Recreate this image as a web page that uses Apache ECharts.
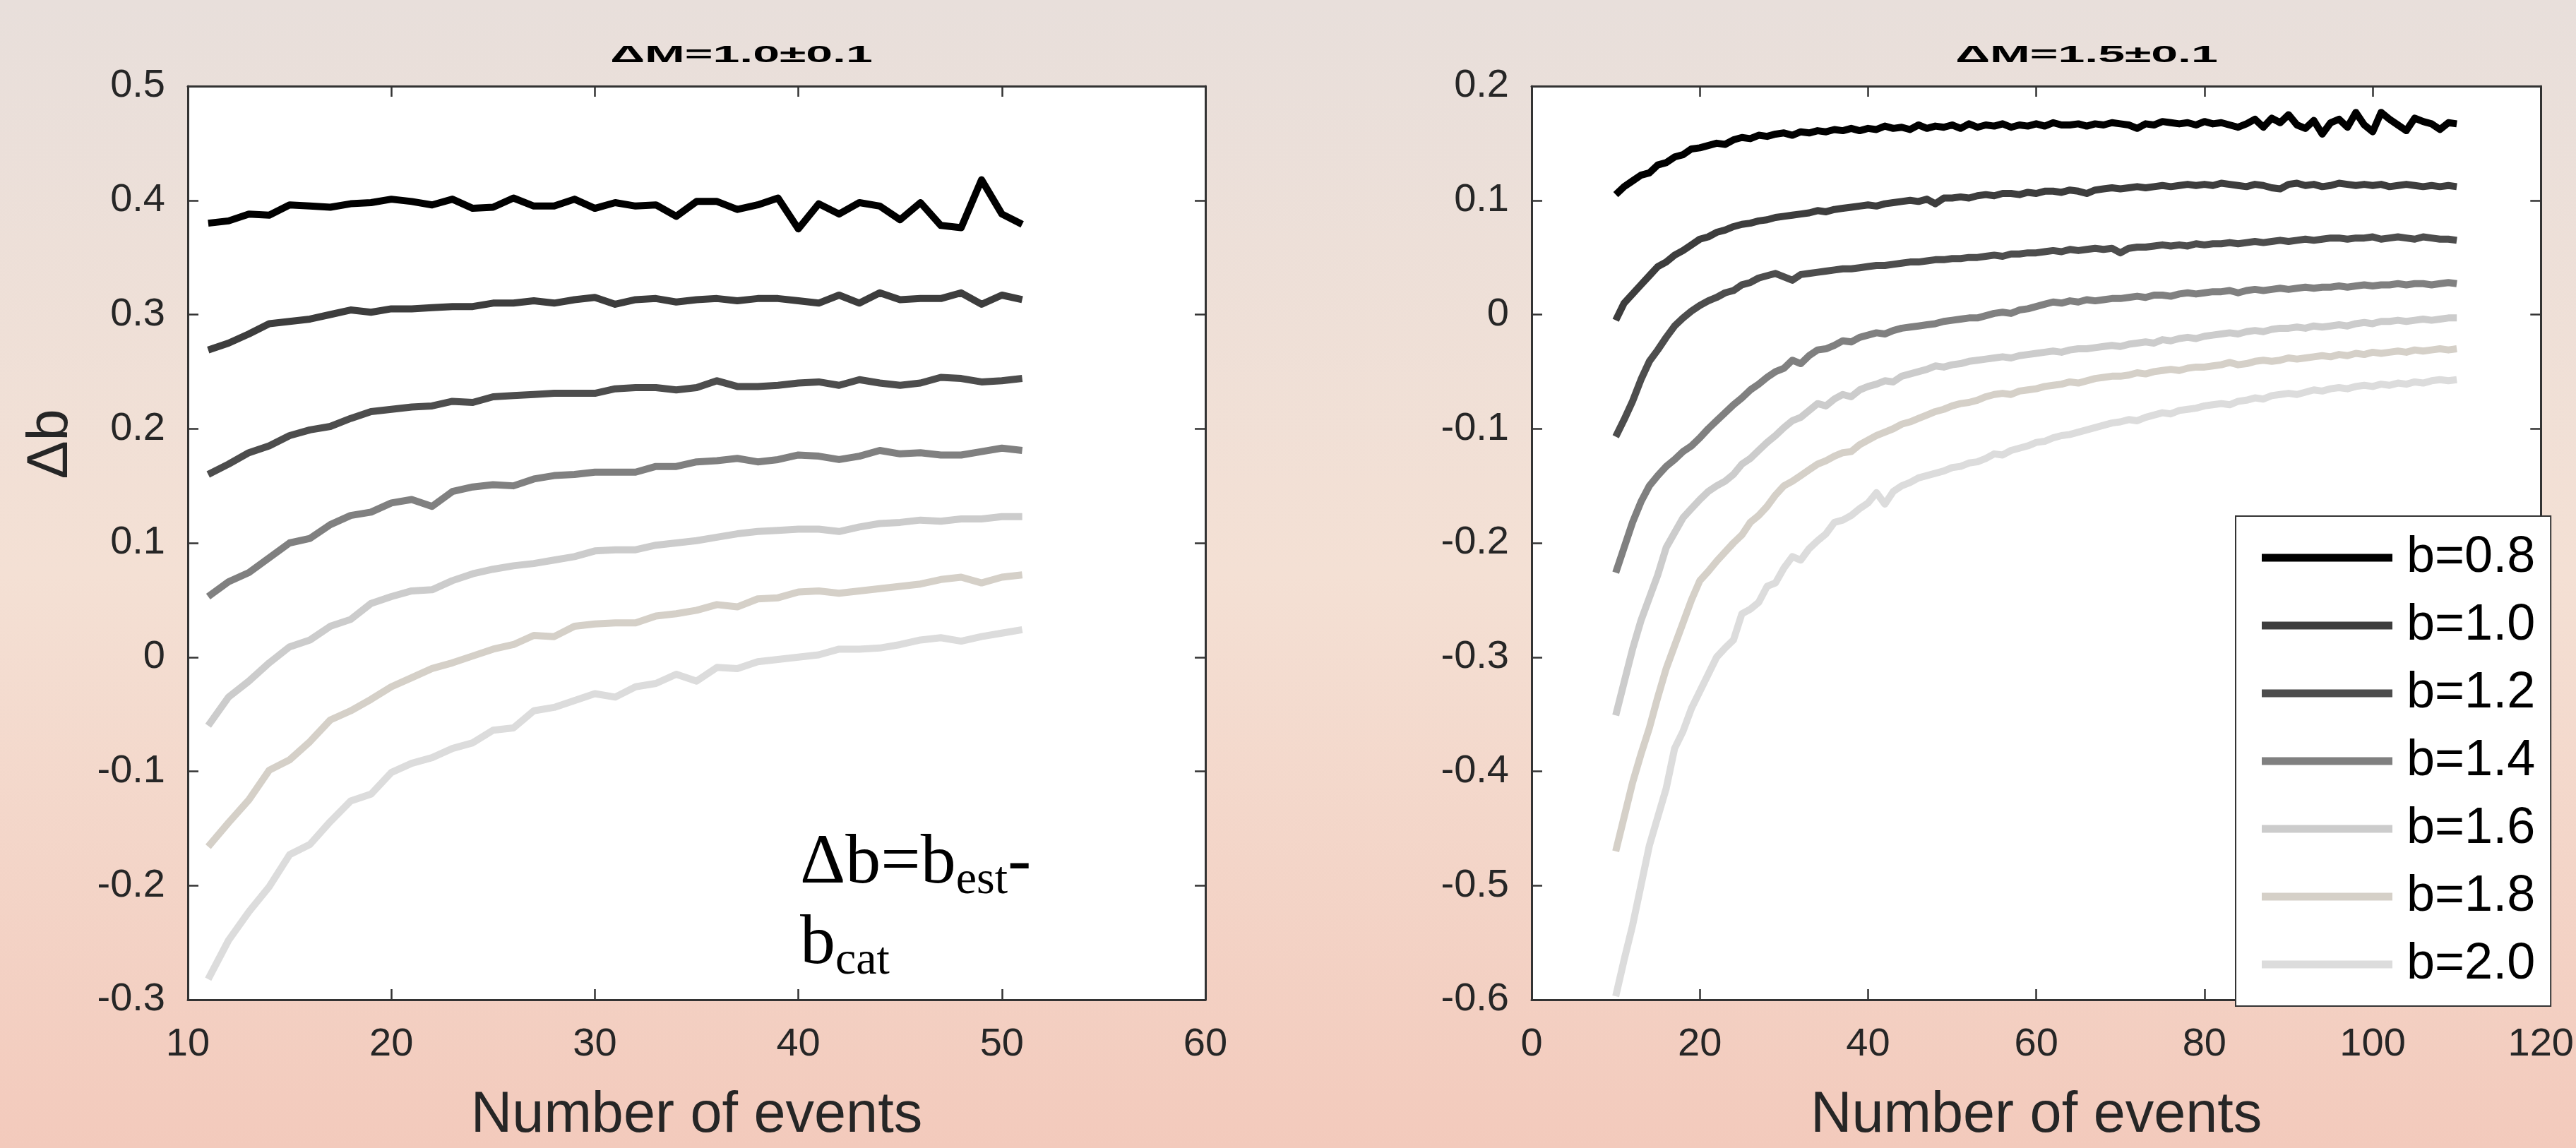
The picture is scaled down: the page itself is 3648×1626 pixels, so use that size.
<!DOCTYPE html>
<html><head><meta charset="utf-8">
<script src="https://cdn.jsdelivr.net/npm/echarts@6/dist/echarts.min.js"></script>
<style>html,body{margin:0;padding:0;background:#f0dcd2;} #c{width:3648px;height:1626px;}</style>
</head><body><div id="c"></div>
<script>
// ---------- DATA ----------
const seriesNames = ['b=0.8','b=1.0','b=1.2','b=1.4','b=1.6','b=1.8','b=2.0'];
const seriesColors = ['#000000','#3d3d3d','#4d4d4d','#808080','#cccccc','#d5d0c8','#dcdcdc'];

const leftTitle = '\u0394M=1.0\u00b10.1';
const rightTitle = '\u0394M=1.5\u00b10.1';
const xAxisTitle = 'Number of events';
const yAxisTitle = '\u0394b';

const leftN = [11,12,13,14,15,16,17,18,19,20,21,22,23,24,25,26,27,28,29,30,31,32,33,34,35,36,37,38,39,40,41,42,43,44,45,46,47,48,49,50,51];
const left_b08 = [.380,.382,.388,.387,.396,.395,.394,.397,.398,.401,.399,.396,.401,.393,.394,.402,.395,.395,.401,.393,.398,.395,.396,.386,.399,.399,.392,.396,.402,.375,.397,.388,.398,.395,.383,.398,.378,.376,.418,.388,.379];
const left_b10 = [.269,.275,.283,.292,.294,.296,.300,.304,.302,.305,.305,.306,.307,.307,.310,.310,.312,.310,.313,.315,.309,.313,.314,.311,.313,.314,.312,.314,.314,.312,.310,.317,.310,.319,.313,.314,.314,.319,.309,.317,.313];
const left_b12 = [.160,.169,.179,.185,.194,.199,.202,.209,.215,.217,.219,.220,.224,.223,.228,.229,.230,.231,.231,.231,.235,.236,.236,.234,.236,.242,.237,.237,.238,.240,.241,.238,.243,.240,.238,.240,.245,.244,.241,.242,.244];
const left_b14 = [.053,.066,.074,.087,.100,.104,.116,.124,.127,.135,.138,.132,.145,.149,.151,.150,.156,.159,.160,.162,.162,.162,.167,.167,.171,.172,.174,.171,.173,.177,.176,.173,.176,.181,.178,.179,.177,.177,.180,.183,.181];
const left_b16 = [-.060,-.035,-.021,-.005,.009,.015,.027,.033,.047,.053,.058,.059,.067,.073,.077,.080,.082,.085,.088,.093,.094,.094,.098,.100,.102,.105,.108,.110,.111,.112,.112,.110,.114,.117,.118,.120,.119,.121,.121,.123,.123];
const left_b18 = [-.166,-.145,-.125,-.099,-.090,-.074,-.055,-.047,-.037,-.026,-.018,-.010,-.005,.001,.007,.011,.019,.018,.027,.029,.030,.030,.036,.038,.041,.046,.044,.051,.052,.057,.058,.056,.058,.060,.062,.064,.068,.070,.065,.070,.072];
const left_b20 = [-.282,-.248,-.223,-.201,-.173,-.164,-.144,-.126,-.120,-.101,-.093,-.088,-.080,-.075,-.064,-.062,-.047,-.044,-.038,-.032,-.035,-.026,-.023,-.015,-.021,-.009,-.010,-.004,-.002,.000,.002,.007,.007,.008,.011,.015,.017,.014,.018,.021,.024];

const rightN = [10,11,12,13,14,15,16,17,18,19,20,21,22,23,24,25,26,27,28,29,30,31,32,33,34,35,36,37,38,39,40,41,42,43,44,45,46,47,48,49,50,51,52,53,54,55,56,57,58,59,60,61,62,63,64,65,66,67,68,69,70,71,72,73,74,75,76,77,78,79,80,81,82,83,84,85,86,87,88,89,90,91,92,93,94,95,96,97,98,99,100,101,102,103,104,105,106,107,108,109,110];
const right_b08 = [
 .105,.112,.117,.122,.124,.131,.133,.138,.140,.145,
 .146,.148,.150,.149,.153,.155,.154,.157,.156,.158,
 .159,.157,.160,.159,.161,.160,.162,.161,.163,.161,
 .163,.162,.165,.163,.164,.162,.166,.163,.165,.164,
 .166,.163,.167,.164,.166,.165,.167,.164,.166,.165,
 .167,.165,.168,.166,.166,.167,.165,.167,.166,.168,
 .167,.166,.163,.167,.166,.169,.168,.167,.168,.166,
 .169,.167,.168,.166,.164,.167,.171,.164,.172,.168,
 .175,.166,.163,.170,.158,.168,.171,.164,.177,.166,
 .160,.177,.171,.166,.161,.172,.169,.167,.162,.168,.167];
const right_b10 = [
 -.005,.010,.018,.026,.034,.042,.046,.052,.056,.061,
 .066,.068,.072,.074,.077,.079,.080,.082,.083,.085,
 .086,.087,.088,.089,.091,.090,.092,.093,.094,.095,
 .096,.095,.097,.098,.099,.100,.099,.101,.097,.102,
 .102,.103,.102,.104,.105,.104,.106,.106,.105,.107,
 .106,.108,.108,.107,.109,.108,.106,.109,.110,.111,
 .110,.111,.112,.111,.112,.113,.112,.113,.114,.113,
 .114,.113,.115,.114,.113,.112,.114,.113,.111,.110,
 .114,.115,.113,.114,.112,.113,.115,.114,.113,.114,
 .113,.114,.112,.113,.114,.113,.112,.113,.112,.113,.112];
const right_b12 = [
 -.107,-.092,-.076,-.057,-.041,-.031,-.020,-.010,-.003,.003,
 .008,.012,.015,.019,.021,.026,.028,.032,.034,.036,
 .033,.030,.035,.036,.037,.038,.039,.040,.040,.041,
 .042,.043,.043,.044,.045,.046,.046,.047,.048,.048,
 .049,.049,.050,.050,.051,.052,.051,.053,.053,.054,
 .054,.055,.056,.055,.057,.056,.057,.058,.057,.058,
 .054,.058,.059,.059,.060,.061,.060,.061,.060,.062,
 .061,.062,.062,.063,.062,.063,.064,.063,.064,.065,
 .064,.065,.066,.065,.066,.067,.067,.066,.067,.067,
 .068,.066,.067,.068,.067,.066,.068,.067,.066,.066,.065];
const right_b14 = [
 -.226,-.204,-.182,-.164,-.150,-.141,-.133,-.127,-.120,-.115,
 -.108,-.100,-.093,-.086,-.079,-.073,-.066,-.061,-.055,-.050,
 -.047,-.040,-.043,-.036,-.031,-.030,-.027,-.023,-.024,-.020,
 -.018,-.016,-.017,-.014,-.012,-.011,-.010,-.009,-.008,-.006,
 -.005,-.004,-.003,-.003,-.001,.001,.002,.001,.004,.005,
 .007,.009,.011,.010,.012,.011,.013,.012,.013,.014,
 .014,.015,.016,.015,.017,.017,.016,.018,.019,.018,
 .019,.020,.020,.021,.019,.021,.022,.021,.022,.023,
 .022,.023,.024,.023,.024,.024,.025,.024,.025,.026,
 .025,.026,.026,.027,.026,.027,.027,.026,.027,.028,.027];
const right_b16 = [
 -.351,-.322,-.293,-.268,-.248,-.228,-.204,-.191,-.178,-.170,
 -.162,-.155,-.150,-.146,-.140,-.131,-.126,-.119,-.112,-.106,
 -.099,-.093,-.090,-.084,-.078,-.080,-.074,-.070,-.072,-.066,
 -.063,-.061,-.058,-.059,-.054,-.052,-.050,-.048,-.045,-.046,
 -.044,-.043,-.041,-.040,-.039,-.038,-.037,-.038,-.036,-.035,
 -.034,-.033,-.032,-.033,-.031,-.030,-.030,-.029,-.028,-.027,
 -.028,-.026,-.025,-.024,-.025,-.022,-.023,-.021,-.020,-.021,
 -.019,-.018,-.017,-.016,-.017,-.015,-.014,-.015,-.013,-.012,
 -.012,-.011,-.012,-.010,-.011,-.010,-.009,-.010,-.008,-.007,
 -.008,-.006,-.006,-.005,-.006,-.005,-.004,-.005,-.004,-.003,-.003];
const right_b18 = [
 -.470,-.440,-.410,-.385,-.362,-.335,-.310,-.290,-.270,-.250,
 -.233,-.225,-.216,-.208,-.200,-.193,-.182,-.176,-.168,-.158,
 -.150,-.146,-.141,-.136,-.131,-.128,-.124,-.121,-.120,-.114,
 -.110,-.106,-.103,-.100,-.096,-.094,-.091,-.088,-.085,-.083,
 -.080,-.078,-.077,-.075,-.072,-.070,-.069,-.070,-.067,-.066,
 -.065,-.063,-.062,-.061,-.059,-.060,-.058,-.056,-.055,-.054,
 -.054,-.053,-.051,-.052,-.050,-.049,-.048,-.049,-.047,-.046,
 -.046,-.045,-.044,-.042,-.044,-.043,-.041,-.040,-.041,-.040,
 -.038,-.039,-.038,-.037,-.036,-.037,-.035,-.036,-.034,-.035,
 -.033,-.034,-.033,-.032,-.033,-.031,-.032,-.031,-.030,-.031,-.030];
const right_b20 = [
 -.597,-.565,-.535,-.500,-.465,-.440,-.415,-.380,-.365,-.345,
 -.330,-.315,-.300,-.292,-.285,-.262,-.258,-.252,-.238,-.235,
 -.222,-.212,-.215,-.205,-.198,-.192,-.182,-.180,-.176,-.170,
 -.165,-.156,-.166,-.155,-.150,-.147,-.143,-.141,-.139,-.137,
 -.134,-.133,-.130,-.129,-.126,-.122,-.123,-.119,-.117,-.115,
 -.112,-.111,-.108,-.106,-.105,-.103,-.101,-.099,-.097,-.095,
 -.094,-.092,-.093,-.090,-.088,-.086,-.087,-.084,-.083,-.082,
 -.080,-.079,-.078,-.079,-.076,-.075,-.073,-.074,-.071,-.070,
 -.069,-.070,-.068,-.066,-.067,-.065,-.064,-.065,-.063,-.062,
 -.063,-.061,-.062,-.060,-.061,-.059,-.060,-.058,-.057,-.058,-.057];

const leftX = {min: 10, max: 60, interval: 10};
const leftY = {min: -0.3, max: 0.5, interval: 0.1};
const rightX = {min: 0, max: 120, interval: 20};
const rightY = {min: -0.6, max: 0.2, interval: 0.1};

const leftSets = [left_b08,left_b10,left_b12,left_b14,left_b16,left_b18,left_b20];
const rightSets = [right_b08,right_b10,right_b12,right_b14,right_b16,right_b18,right_b20];

// ---------- STYLE ----------
const FONT = '"Liberation Sans", Arial, Helvetica, sans-serif';
const AX = '#333333';
const axisLine = {show: true, onZero: false, lineStyle: {color: AX, width: 3}};
const axisTick = {show: true, inside: true, length: 15, lineStyle: {color: AX, width: 2.5}};
const tickLabel = {color: '#262626', fontSize: 56, fontFamily: FONT};
const fmt = v => String(parseFloat(Number(v).toFixed(1)));

function xAxes(grid, r, withName) {
  return [
    {gridIndex: grid, type: 'value', position: 'bottom', min: r.min, max: r.max, interval: r.interval,
     axisLine, axisTick, splitLine: {show: false},
     axisLabel: Object.assign({margin: 36, showMinLabel: true, showMaxLabel: true, formatter: v => String(v)}, tickLabel),
     name: withName, nameLocation: 'middle', nameGap: 124,
     nameTextStyle: {fontSize: 81, color: '#262626', fontFamily: FONT}},
    {gridIndex: grid, type: 'value', position: 'top', min: r.min, max: r.max, interval: r.interval,
     axisLine, axisTick, splitLine: {show: false}, axisLabel: {show: false}}
  ];
}
function yAxes(grid, r) {
  return [
    {gridIndex: grid, type: 'value', position: 'left', min: r.min, max: r.max, interval: r.interval,
     axisLine, axisTick, splitLine: {show: false},
     axisLabel: Object.assign({margin: 32, showMinLabel: true, showMaxLabel: true, formatter: fmt}, tickLabel)},
    {gridIndex: grid, type: 'value', position: 'right', min: r.min, max: r.max, interval: r.interval,
     axisLine, axisTick, splitLine: {show: false}, axisLabel: {show: false}}
  ];
}

const series = [];
seriesNames.forEach((name, i) => {
  series.push({name, type: 'line', xAxisIndex: 0, yAxisIndex: 0, showSymbol: false, symbol: 'none',
    color: seriesColors[i], lineStyle: {width: 10, color: seriesColors[i], join: 'round'},
    data: leftN.map((n, k) => [n, leftSets[i][k]]), silent: true, z: 2 + i});
});
seriesNames.forEach((name, i) => {
  series.push({name, type: 'line', xAxisIndex: 2, yAxisIndex: 2, showSymbol: false, symbol: 'none',
    color: seriesColors[i], lineStyle: {width: 10, color: seriesColors[i], join: 'round'},
    data: rightN.map((n, k) => [n, rightSets[i][k]]), silent: true, z: 2 + i});
});

const chart = echarts.init(document.getElementById('c'), null, {renderer: 'canvas', width: 3648, height: 1626});
chart.setOption({
  animation: false,
  backgroundColor: {type: 'linear', x: 0, y: 0, x2: 0, y2: 1, colorStops: [
    {offset: 0, color: '#e8dfdb'}, {offset: 0.5, color: '#f4e0d4'}, {offset: 1, color: '#f3cabc'}]},
  grid: [
    {left: 266, top: 122, width: 1441, height: 1303, show: true, backgroundColor: '#ffffff', borderWidth: 0, containLabel: false},
    {left: 2169, top: 122, width: 1446, height: 1303, show: true, backgroundColor: '#ffffff', borderWidth: 0, containLabel: false}
  ],
  xAxis: [...xAxes(0, leftX, xAxisTitle), ...xAxes(1, rightX, xAxisTitle)],
  yAxis: [...yAxes(0, leftY), ...yAxes(1, rightY)],
  legend: {
    data: seriesNames, orient: 'vertical', left: 3166, top: 731,
    icon: 'rect', itemWidth: 185, itemHeight: 11, itemGap: 16,
    padding: [19, 22, 19, 37],
    backgroundColor: '#ffffff', borderColor: '#333333', borderWidth: 2, borderRadius: 0,
    selectedMode: false, z: 20,
    textStyle: {fontSize: 72, fontFamily: FONT, color: '#000000', lineHeight: 80, padding: [0, 0, 0, 15]}
  },
  series,
  graphic: [
    {type: 'text', x: 1050, y: 79, scaleX: 2.0, z: 30, style: {text: leftTitle, font: 'bold 34px ' + FONT, fill: '#000',
      align: 'center', verticalAlign: 'middle', textAlign: 'center', textVerticalAlign: 'middle'}},
    {type: 'text', x: 2955, y: 79, scaleX: 2.0, z: 30, style: {text: rightTitle, font: 'bold 34px ' + FONT, fill: '#000',
      align: 'center', verticalAlign: 'middle', textAlign: 'center', textVerticalAlign: 'middle'}},
    {type: 'text', x: 73, y: 629, rotation: Math.PI / 2, z: 30, style: {text: yAxisTitle, font: '81px ' + FONT, fill: '#262626',
      align: 'center', verticalAlign: 'middle', textAlign: 'center', textVerticalAlign: 'middle'}},
    {type: 'text', x: 1133, y: 1167, z: 30, style: {
      text: '{m|\u0394b=b}{s|est}{m|-}\n{m|b}{s|cat}',
      align: 'left', verticalAlign: 'top', textAlign: 'left', textVerticalAlign: 'top',
      rich: {
        m: {fontFamily: '"Liberation Serif", serif', fontSize: 100, lineHeight: 114, fill: '#000', color: '#000'},
        s: {fontFamily: '"Liberation Serif", serif', fontSize: 66, lineHeight: 44, verticalAlign: 'bottom', fill: '#000', color: '#000'}
      }}}
  ]
});
</script>
</body></html>
